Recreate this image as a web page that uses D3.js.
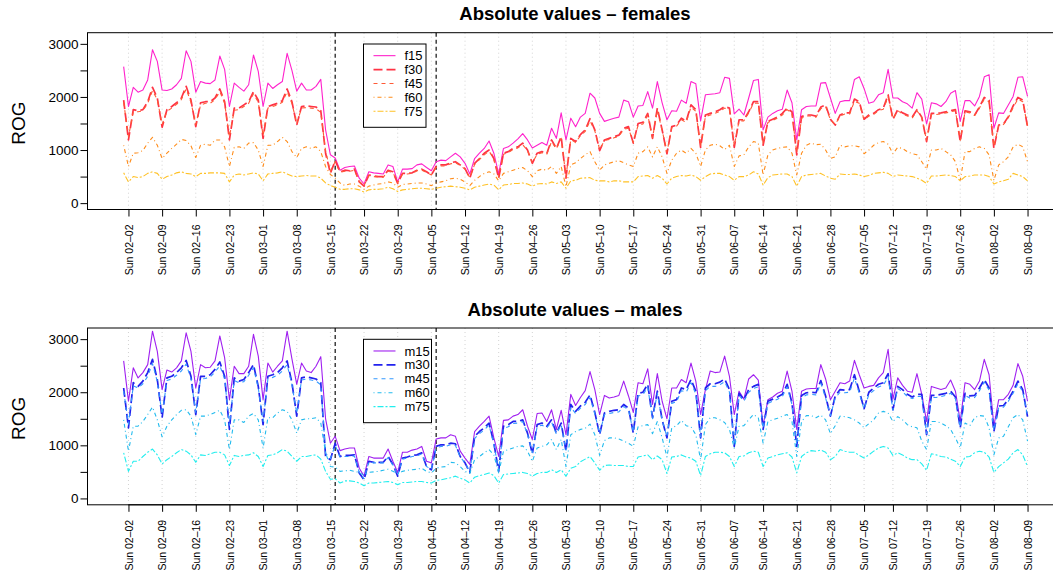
<!DOCTYPE html>
<html>
<head>
<meta charset="utf-8">
<script src="https://cdn.jsdelivr.net/npm/d3@7"></script>
<style>
  body { margin: 0; background: #fff; }
  svg { font-family: "Liberation Sans", Arial, Helvetica, sans-serif; }
</style>
</head>
<body>
<svg width="1053" height="576"></svg>
<script>
//  dates: daily rows from Sat 02-01 to Sun 08-09, two days have no row
var firstDay = new Date(2020, 1, 1);
var lastDay = new Date(2020, 7, 9);
var skippedDays = ["2020-06-10", "2020-07-08"];
var breakDays = ["2020-03-16", "2020-04-06"];

//  females
var f15 = [2570,1820,2180,2090,2130,2320,2890,2670,2130,2120,2150,2230,2350,2870,2670,2090,2290,2260,2250,2320,2770,2520,1820,2260,2180,2110,2230,2790,2480,1820,2260,2160,2230,2290,2820,2500,2110,2260,2130,2130,2200,2330,1380,910,850,620,
  670,690,700,470,360,590,570,560,550,720,690,400,640,640,650,720,740,670,610,780,810,800,870,940,870,750,550,840,940,1030,1170,940,550,1030,1060,1130,1210,1310,1190,1040,1090,1140,1090,1410,1220,1700,1190,1600,1440,1620,1690,2070,
  1980,1690,1540,1570,1600,1620,1940,1910,1620,1830,1840,2100,1790,2290,1890,1570,1740,1730,1940,1880,2290,2250,1550,2040,2050,2060,2080,2370,2350,1680,1770,1660,1980,2310,2330,1380,1620,1690,1740,1770,2130,1890,1190,1760,1820,1830,1830,2260,
  2270,1980,1690,1910,1930,1930,2330,2380,2160,1880,1910,2040,2080,2520,1980,1980,1910,1870,1790,2080,1960,1490,1890,1870,1820,1910,2070,2120,1540,1930,1930,1830,2010,2380,2420,1410,1700,1690,1850,2010,2370,2380,2010];
var f30 = [1940,1190,1760,1740,1760,1910,2180,1980,1430,1760,1820,1890,1980,2200,1940,1440,1890,1910,1910,1980,2150,1910,1190,1790,1790,1850,1910,2100,1940,1220,1820,1850,1880,1930,2150,1910,1470,1820,1830,1820,1810,1740,940,560,800,590,
  620,610,640,400,320,530,510,500,500,620,590,370,560,560,570,620,640,590,530,690,720,720,760,780,720,650,470,750,840,940,1000,840,470,940,970,1030,1060,1130,1000,750,940,970,930,1190,1030,1250,470,1220,1160,1290,1380,1590,
  1380,990,1190,1220,1250,1280,1410,1440,1130,1500,1520,1690,1220,1790,1380,930,1440,1470,1600,1540,1850,1760,1050,1660,1690,1720,1760,1820,1790,1050,1570,1570,1720,1910,1910,1090,1540,1580,1620,1690,1790,1720,910,1630,1660,1660,1640,1810,
  1850,1580,1470,1660,1700,1700,1960,1910,1580,1660,1690,1760,1790,2040,1580,1760,1700,1660,1620,1760,1620,1160,1690,1690,1700,1720,1740,1760,1160,1740,1720,1660,1810,1990,1940,1030,1470,1490,1630,1830,1990,1940,1440];
var f45 = [1900,1250,1720,1720,1740,1880,2120,1950,1480,1730,1790,1860,1950,2150,1900,1480,1850,1880,1880,1950,2100,1880,1250,1750,1760,1820,1880,2060,1900,1270,1790,1820,1850,1900,2100,1880,1500,1790,1800,1790,1780,1710,980,600,780,580,
  600,600,620,410,330,520,500,490,490,600,580,380,550,550,560,610,620,580,530,670,700,700,740,760,710,640,480,730,820,910,980,830,490,920,950,1010,1040,1100,990,760,920,950,920,1160,1020,1220,500,1200,1140,1270,1350,1550,
  1360,1010,1180,1200,1230,1260,1390,1410,1140,1470,1490,1660,1230,1750,1370,960,1420,1450,1570,1520,1810,1730,1070,1630,1660,1690,1730,1790,1760,1080,1550,1550,1700,1880,1880,1120,1520,1560,1600,1660,1760,1700,950,1600,1640,1640,1620,1780,
  1820,1570,1480,1640,1680,1680,1920,1880,1570,1640,1670,1740,1770,2000,1590,1740,1680,1640,1600,1740,1610,1180,1670,1670,1680,1700,1720,1740,1180,1720,1700,1650,1790,1960,1910,1070,1460,1480,1610,1800,1960,1910,1450];
var f60 = [1090,690,940,950,990,1130,1240,1090,840,940,1030,1110,1200,1180,1080,860,1090,1110,1090,1190,1190,1060,690,1050,1060,1030,1130,1140,1000,690,1090,1090,1160,1240,1160,970,860,1030,1060,1030,1060,970,690,540,470,380,
  330,360,360,320,260,320,340,360,370,400,380,300,350,360,370,380,380,360,330,380,400,420,460,470,450,400,330,430,500,560,590,550,420,560,590,620,650,670,610,500,610,640,620,690,560,690,310,720,760,840,910,970,
  780,620,720,750,780,800,760,720,690,940,970,1060,870,1060,870,560,810,940,1000,940,1030,940,690,1000,1090,1110,1080,1010,1090,690,890,910,1060,1160,1130,530,910,1000,1030,1050,1060,940,530,940,1090,1130,1100,1110,
  1000,840,870,1090,1060,1080,1080,1060,930,1000,1090,1140,1160,1110,930,1050,1030,970,930,910,780,640,1000,1000,1030,970,910,780,430,970,970,1030,1060,1030,910,430,720,780,870,1060,1110,1060,780];
var f75 = [570,400,500,480,500,560,590,560,450,500,530,570,590,560,550,500,560,560,570,570,570,560,400,530,550,530,550,570,550,420,550,560,570,590,550,510,500,510,520,510,510,470,380,330,300,260,
  260,270,270,250,210,250,260,260,270,300,270,220,250,260,270,280,280,270,260,280,300,310,320,310,300,280,250,300,320,340,360,340,250,340,350,370,370,380,360,320,360,370,360,400,370,400,280,420,430,470,475,480,
  430,420,420,400,420,420,400,400,400,500,510,520,470,520,470,360,470,500,520,510,530,500,430,500,550,560,560,530,500,430,500,500,530,590,550,340,480,530,540,550,550,500,320,500,530,540,550,560,
  510,470,450,550,540,540,550,530,500,520,560,570,580,560,500,530,520,510,500,470,430,370,510,510,520,530,520,500,420,500,510,530,530,530,500,360,400,420,450,560,530,500,420];

//  males
var m15 = [2590,1830,2460,2270,2370,2520,3150,2770,2050,2420,2380,2460,2590,3120,2770,2080,2520,2460,2470,2590,3060,2650,1860,2490,2350,2350,2490,3090,2680,1860,2550,2380,2490,2590,3150,2630,2150,2550,2400,2370,2490,2670,1500,1040,1170,900,
  930,950,950,570,420,790,760,760,760,930,700,490,870,870,910,930,980,700,670,1120,1140,1140,1200,1170,890,760,640,1260,1360,1450,1550,1140,790,1470,1480,1550,1580,1670,1360,1110,1600,1610,1450,1670,1300,1660,1200,1960,1750,1900,2030,2390,
  2050,1580,1940,1890,1910,1940,2210,1930,1620,2180,2160,2440,1770,2350,1830,1500,2080,2080,2240,2180,2550,2210,1580,2050,2400,2370,2380,2680,2300,1580,2020,1870,2250,2330,2230,1370,1860,1910,1980,2020,2400,2020,1300,2020,2060,2070,2070,2520,
  2250,1860,2020,2180,2160,2210,2600,2330,2080,2110,2130,2270,2370,2810,1870,2270,2130,2020,2000,2350,1960,1450,2110,2080,2050,2080,2230,2020,1450,2180,2150,2050,2210,2620,2330,1360,1860,1860,1960,2130,2540,2300,1830];
var m30 = [2080,1330,2180,2110,2210,2370,2620,2240,1520,2270,2300,2370,2460,2600,2300,1580,2300,2300,2330,2430,2570,2300,1300,2270,2210,2240,2370,2520,2110,1390,2300,2330,2370,2460,2590,2180,1550,2270,2290,2270,2250,2180,790,730,1040,790,
  810,810,820,480,350,700,680,680,680,790,640,420,760,780,810,820,860,600,540,980,1010,1010,1040,1030,790,670,490,1170,1260,1330,1420,1040,510,1360,1390,1450,1450,1480,1230,840,1390,1420,1360,1480,1230,1420,890,1770,1640,1740,1810,1950,
  1620,1200,1610,1640,1660,1670,1770,1700,1230,1980,2000,2150,1520,2020,1480,1140,1830,1860,2080,2050,2240,2020,1140,2080,2160,2160,2190,2250,2050,980,1980,1860,2050,2110,2150,1300,1830,1870,1910,1960,2150,1800,980,1940,1990,2000,1990,2220,
  1930,1550,1930,2050,2040,2050,2330,2020,1690,2000,2080,2150,2180,2350,1670,2110,2050,1960,1910,1960,1960,1200,1940,1940,1960,1980,2020,1910,1330,1980,1930,1940,2080,2240,2080,1260,1740,1750,1860,2020,2210,2050,1540];
var m45 = [2020,1400,2120,2080,2160,2300,2540,2200,1580,2220,2250,2320,2400,2530,2250,1620,2250,2260,2290,2380,2500,2250,1380,2220,2180,2200,2320,2460,2080,1450,2250,2280,2320,2400,2520,2140,1600,2230,2250,2230,2210,2140,850,750,1000,780,
  790,790,800,490,370,690,670,670,670,770,630,430,740,760,790,800,840,600,550,950,980,980,1010,1000,780,670,500,1130,1220,1290,1380,1020,530,1320,1350,1410,1420,1450,1210,860,1350,1380,1330,1440,1210,1390,910,1720,1600,1700,1770,1900,
  1590,1220,1580,1600,1620,1630,1730,1670,1250,1930,1950,2100,1500,1980,1470,1160,1790,1820,2030,2000,2180,1970,1160,2030,2110,2110,2140,2200,2000,1010,1940,1830,2000,2070,2100,1320,1790,1830,1870,1920,2100,1770,1010,1900,1950,1960,1950,2170,
  1890,1560,1890,2000,1990,2000,2270,1980,1680,1960,2030,2100,2130,2290,1660,2070,2010,1920,1880,1920,1920,1220,1900,1900,1920,1940,1980,1880,1340,1940,1890,1900,2030,2190,2040,1280,1710,1720,1830,1980,2160,2010,1550];
var m60 = [1480,890,1360,1360,1450,1580,1720,1480,1160,1360,1480,1580,1660,1670,1550,1200,1550,1550,1580,1620,1660,1480,920,1480,1480,1430,1550,1600,1480,950,1520,1520,1610,1670,1640,1480,1230,1480,1500,1500,1520,1420,860,600,590,510,
  520,530,510,490,430,490,500,510,530,550,510,470,510,530,540,550,570,510,480,570,590,600,680,670,600,510,470,730,790,860,920,820,480,890,920,950,980,990,890,700,950,980,1010,1110,920,1110,600,1200,1260,1300,1320,1400,
  1200,810,1090,1140,1140,1120,1080,1040,980,1350,1370,1390,1220,1450,1140,780,1330,1370,1470,1370,1350,1200,730,1390,1520,1520,1480,1430,1300,950,1360,1370,1480,1580,1520,1040,1450,1480,1510,1550,1580,1450,790,1450,1560,1560,1520,1570,
  1480,1220,1370,1550,1540,1520,1480,1420,1330,1410,1480,1610,1640,1610,1450,1540,1480,1390,1350,1330,1080,920,1450,1450,1420,1370,1300,1140,950,1420,1370,1520,1560,1550,1330,820,1140,1170,1350,1520,1580,1480,1080];
var m75 = [860,510,700,700,790,870,930,820,650,730,790,860,920,890,820,680,820,810,840,870,870,820,620,810,790,810,820,860,790,600,810,820,860,920,890,790,700,790,790,810,820,740,510,360,370,290,
  330,330,320,290,240,290,290,300,310,320,300,260,300,300,310,320,320,300,290,340,350,370,390,420,380,350,290,400,430,450,480,430,290,450,460,470,480,490,470,420,470,490,490,540,490,540,420,570,600,690,740,790,
  670,530,620,630,620,620,620,600,600,780,800,820,730,800,730,470,780,790,820,780,760,700,430,790,840,870,870,860,790,600,790,800,860,890,870,600,760,790,820,840,860,780,480,790,860,900,890,910,
  870,730,790,920,890,870,870,810,760,820,890,950,980,950,810,860,820,760,730,730,650,530,840,820,790,780,740,700,600,780,790,860,890,870,780,490,600,670,740,860,920,820,600];

var yTicks = [0, 500, 1000, 1500, 2000, 2500, 3000];
var yLabels = [0, 1000, 2000, 3000];

var females = [
  { name: "f15", values: f15, color: "#ff22cc", width: 1.1, dash: null },
  { name: "f30", values: f30, color: "#ff3344", width: 1.7, dash: "9,4" },
  { name: "f45", values: f45, color: "#ff5a36", width: 1.1, dash: "4,4" },
  { name: "f60", values: f60, color: "#ff8c1a", width: 1.1, dash: "1,3,4,3" },
  { name: "f75", values: f75, color: "#ffc125", width: 1.1, dash: "2,2,6,2" }
];
var males = [
  { name: "m15", values: m15, color: "#a020f0", width: 1.1, dash: null },
  { name: "m30", values: m30, color: "#2222ee", width: 1.7, dash: "9,4" },
  { name: "m45", values: m45, color: "#3399ff", width: 1.1, dash: "4,4" },
  { name: "m60", values: m60, color: "#22bbee", width: 1.1, dash: "1,3,4,3" },
  { name: "m75", values: m75, color: "#22eeee", width: 1.1, dash: "2,2,6,2" }
];

var svg = d3.select("svg");
var width = +svg.attr("width");
var fmt = d3.timeFormat("%Y-%m-%d");
var tickFmt = d3.timeFormat("%a %m\u2013%d");

var dates = d3.timeDay.range(firstDay, d3.timeDay.offset(lastDay, 1))
  .filter(function(d) { return skippedDays.indexOf(fmt(d)) < 0; });
var n = dates.length;

//  R style axis range: 4% padding each side
var pad = (n - 1) * 0.04;
var x = d3.scaleLinear().domain([-pad, n - 1 + pad]).range([87.5, 1063.7]);

var sundays = [];
dates.forEach(function(d, i) { if (d.getDay() === 0) sundays.push(i); });
var breaks = [];
dates.forEach(function(d, i) { if (breakDays.indexOf(fmt(d)) >= 0) breaks.push(i); });

svg.append("rect").attr("width", width).attr("height", 576).attr("fill", "#fff");

drawPanel(females, 32.7, "Absolute values \u2013 females", { x0: 363.5, x1: 426, y0: 44, y1: 127.3 });
drawPanel(males, 328, "Absolute values \u2013 males", { x0: 363.5, x1: 431.5, y0: 339.3, y1: 422.7 });

function drawPanel(series, top, title, leg) {
  var bottom = top + 176.8;
  var y = d3.scaleLinear().domain([-120, 3210]).range([bottom, top]);
  var g = svg.append("g");

  //  dotted grid at sundays
  g.selectAll(".grid").data(sundays).enter().append("line")
    .attr("x1", function(d) { return x(d); })
    .attr("x2", function(d) { return x(d); })
    .attr("y1", top).attr("y2", bottom)
    .attr("stroke", "#d3d3d3").attr("stroke-width", 1)
    .attr("stroke-dasharray", "1,3");

  //  break lines
  g.selectAll(".brk").data(breaks).enter().append("line")
    .attr("x1", function(d) { return x(d); })
    .attr("x2", function(d) { return x(d); })
    .attr("y1", top).attr("y2", bottom)
    .attr("stroke", "#222").attr("stroke-width", 1.3)
    .attr("stroke-dasharray", "4,3");

  var line = d3.line()
    .x(function(d, i) { return x(i); })
    .y(function(d) { return y(d); });

  series.forEach(function(s) {
    g.append("path")
      .attr("d", line(s.values))
      .attr("fill", "none")
      .attr("stroke", s.color)
      .attr("stroke-width", s.width)
      .attr("stroke-linejoin", "round")
      .attr("stroke-dasharray", s.dash);
  });

  //  box
  g.append("rect")
    .attr("x", x.range()[0]).attr("y", top)
    .attr("width", x.range()[1] - x.range()[0]).attr("height", bottom - top)
    .attr("fill", "none").attr("stroke", "#000").attr("stroke-width", 1);

  //  y axis
  var ya = g.append("g").attr("transform", "translate(" + x.range()[0] + ",0)")
    .call(d3.axisLeft(y).tickValues(yTicks).tickSize(7)
      .tickFormat(function(d) { return yLabels.indexOf(d) >= 0 ? d : ""; }));
  ya.select(".domain").attr("d", "M0," + y(0) + "V" + y(3000)).attr("stroke", "#000");
  ya.selectAll("text").attr("font-size", 13.5).attr("fill", "#000").attr("x", -9)
    .attr("font-family", "Liberation Sans, Arial, sans-serif");

  //  x axis
  var xa = g.append("g").attr("transform", "translate(0," + bottom + ")")
    .call(d3.axisBottom(x).tickValues(sundays).tickSize(7)
      .tickFormat(function(i) { return tickFmt(dates[i]); }));
  xa.select(".domain").attr("d", "M" + x(sundays[0]) + ",0H" + x(sundays[sundays.length - 1])).attr("stroke", "#000");
  xa.selectAll("text")
    .attr("font-size", 10.5).attr("fill", "#000")
    .attr("font-family", "Liberation Sans, Arial, sans-serif")
    .attr("transform", "rotate(-90)")
    .attr("text-anchor", "end")
    .attr("x", -15).attr("y", 0).attr("dy", "0.35em");

  //  titles
  svg.append("text")
    .attr("x", 575).attr("y", top - 12.5)
    .attr("text-anchor", "middle")
    .attr("font-weight", "bold").attr("font-size", 18.5)
    .text(title);
  svg.append("text")
    .attr("transform", "translate(25," + ((top + bottom) / 2 + 2) + ") rotate(-90)")
    .attr("text-anchor", "middle")
    .attr("font-size", 19)
    .text("ROG");

  //  legend
  var lg = svg.append("g");
  lg.append("rect")
    .attr("x", leg.x0).attr("y", leg.y0)
    .attr("width", leg.x1 - leg.x0).attr("height", leg.y1 - leg.y0)
    .attr("fill", "#fff").attr("stroke", "#000").attr("stroke-width", 1);
  var step = (leg.y1 - leg.y0) / 6;
  series.forEach(function(s, k) {
    var yy = leg.y0 + step * (k + 0.84);
    lg.append("line")
      .attr("x1", leg.x0 + 10).attr("x2", leg.x0 + 32)
      .attr("y1", yy).attr("y2", yy)
      .attr("stroke", s.color).attr("stroke-width", s.width)
      .attr("stroke-dasharray", s.dash);
    lg.append("text")
      .attr("x", leg.x0 + 41).attr("y", yy).attr("dy", "0.35em")
      .attr("font-size", 13)
      .text(s.name);
  });
}
</script>
</body>
</html>
